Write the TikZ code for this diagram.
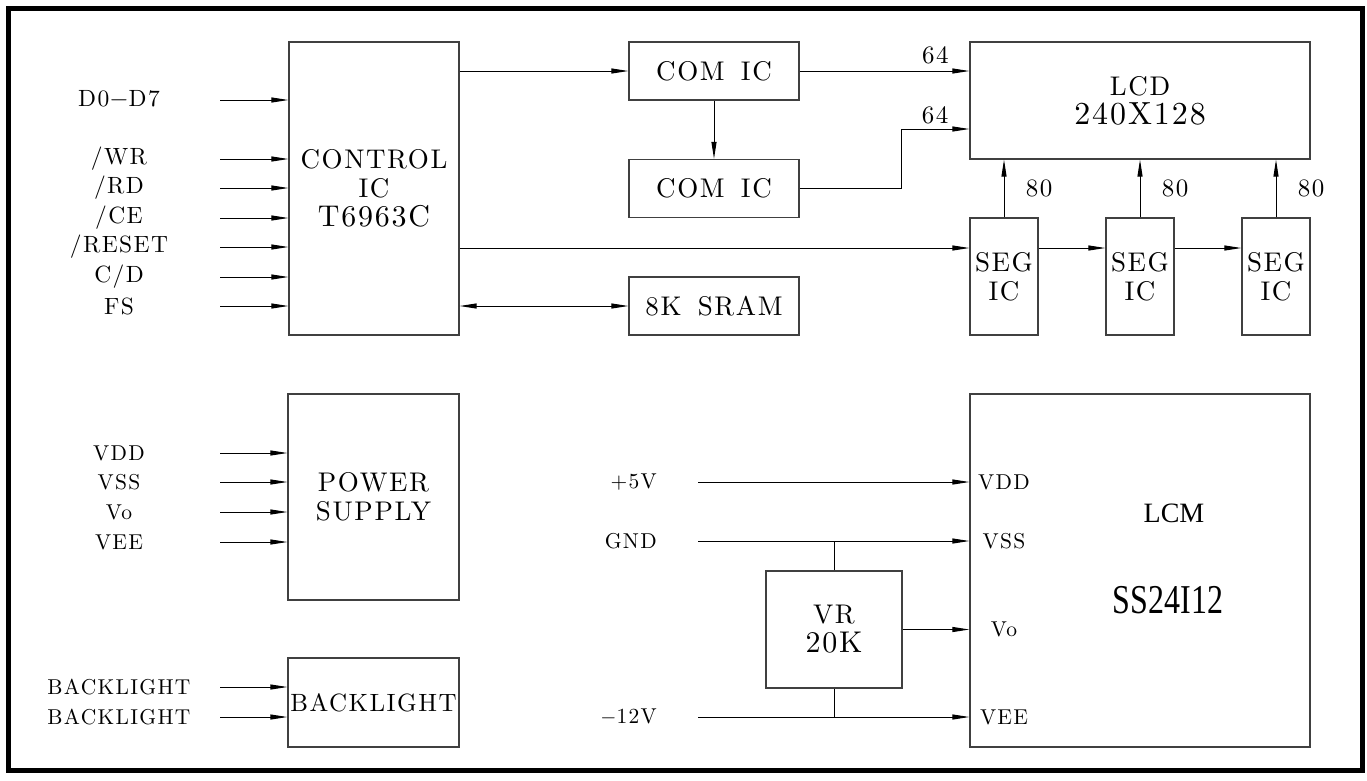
\documentclass[tikz,border=0pt]{standalone}
\usepackage{fontspec}
\usepackage{graphicx}
\setmainfont{lmroman10-regular.otf}[LetterSpace=6]
\newfontfamily\timesfont{Liberation Serif}
\usetikzlibrary{math,arrows.meta}

\begin{document}
\begin{tikzpicture}[x=1pt,y=-1pt,
      box/.style={draw=black!75, line width=1.2pt, inner sep=0pt, align=center,
                  font=\fontsize{27}{29}\selectfont},
      pin/.style={inner sep=0pt, font=\fontsize{21.5}{25}\selectfont},
      bigpin/.style={inner sep=0pt, font=\fontsize{23.5}{25}\selectfont},
      num/.style={inner sep=0pt, font=\fontsize{25}{25}\selectfont},
      parrow/.style={-{Triangle[length=17pt,width=5pt]}, line width=1pt},
      darrow/.style={{Triangle[length=17pt,width=5pt]}-{Triangle[length=17pt,width=5pt]}, line width=1pt},
      wire/.style={line width=1pt}]
    \tikzmath{
      \inX=220; \lblX=119;   % input arrows and their labels
      \busY=248;             % line to the SEG ICs
    }
    \useasboundingbox (0,0) rectangle (1367,780);
    \draw[line width=5pt] (8.5,8.5) rectangle (1362.5,770.5);

    % draw the blocks
    \node[box, minimum width=170pt, minimum height=293pt] (ctrl) at (374,188.5)
      {CONTROL\\IC\\{\fontsize{30}{29}\selectfont T6963C}};
    \node[box, minimum width=170pt, minimum height=58pt] (com1) at (714,71) {COM\hspace{.6em}IC};
    \node[box, minimum width=170pt, minimum height=58pt] (com2) at (714,188.5) {COM\hspace{.6em}IC};
    \node[box, minimum width=170pt, minimum height=58pt] (sram) at (714,306) {8K\hspace{.6em}SRAM};
    \node[box, minimum width=340pt, minimum height=117pt] (lcd) at (1140,100.5)
      {LCD\\{\fontsize{32}{29}\selectfont 240X128}};
    \foreach \x [count=\i] in {1004,1140,1276}
      \node[box, minimum width=68pt, minimum height=117pt] (seg\i) at (\x,276.5) {SEG\\IC};
    \node[box, minimum width=171pt, minimum height=206pt] (power) at (373.5,497) {POWER\\SUPPLY};
    \node[box, minimum width=171pt, minimum height=89pt, font=\fontsize{25}{29}\selectfont] (blight) at (373.5,702.5) {BACKLIGHT};
    \node[box, minimum width=340pt, minimum height=353pt] (lcm) at (1140,570.5) {};
    \node[box, minimum width=136pt, minimum height=117pt] (vr) at (834,629.5)
      {VR\\{\fontsize{30}{29}\selectfont 20K}};

    % inputs of the control IC
    \foreach \y/\txt [count=\i] in {100/{D0$-$D7},159/{/WR},188/{/RD},218/{/CE},247/{/RESET},277/{C/D},306/{FS}} {
      \node[bigpin] (cin\i) at (\lblX,\y) {\txt};
      \coordinate (cs\i) at (\inX,\y);
      \draw[parrow] (cs\i) -- (cs\i -| ctrl.west);
    }

    % inputs of the power supply and the backlight
    \foreach \y/\txt [count=\i] in {453/VDD,482/VSS,512/Vo,542/VEE} {
      \node[pin] (pin\i) at (\lblX,\y) {\txt};
      \coordinate (ps\i) at (\inX,\y);
      \draw[parrow] (ps\i) -- (ps\i -| power.west);
    }
    \foreach \y [count=\i] in {687,717} {
      \node[pin] (bin\i) at (\lblX,\y) {BACKLIGHT};
      \coordinate (bs\i) at (\inX,\y);
      \draw[parrow] (bs\i) -- (bs\i -| blight.west);
    }

    % control IC to COM, SEG and SRAM
    \draw[parrow] (ctrl.east |- com1.west) -- (com1.west);
    \draw[parrow] (com1) -- (com2);
    \draw[parrow] (com1.east) -- (com1.east -| lcd.west) node[num, pos=.8, above=6pt] {64};
    \coordinate (bend) at (901,129);
    \draw[parrow] (com2.east) -| (bend) -- (bend -| lcd.west) node[num, pos=.5, above=4pt] {64};
    \coordinate (bus) at (0,\busY);
    \draw[parrow] (ctrl.east |- bus) -- (seg1.west |- bus);
    \draw[parrow] (seg1.east |- bus) -- (seg2.west |- bus);
    \draw[parrow] (seg2.east |- bus) -- (seg3.west |- bus);
    \foreach \i in {1,2,3}
      \draw[parrow] (seg\i.north) -- (seg\i.north |- lcd.south) node[num, midway, xshift=35pt] {80};
    \draw[darrow] (ctrl.east |- sram.west) -- (sram.west);

    % supplies of the LCM
    \foreach \y/\txt/\pinname [count=\i] in {482/+5V/VDD,541/GND/VSS,717/{$-$12V}/VEE} {
      \node[pin, anchor=east] (sup\i) at (657,\y) {\txt};
      \coordinate (ss\i) at (698,\y);
      \draw[parrow] (ss\i) -- (ss\i -| lcm.west);
      \node[pin] (lpin\i) at (1004,\y) {\pinname};
    }
    \node[pin] (lpinvo) at (1004,629) {Vo};
    \draw[wire] (vr.north) -- (vr.north |- ss2);
    \draw[wire] (vr.south) -- (vr.south |- ss3);
    \draw[parrow] (vr.east) -- (vr.east -| lcm.west);

    \node[inner sep=0pt, font=\timesfont\fontsize{28}{30}\selectfont] (lcmname) at (1174,513) {LCM};
    \node[inner sep=0pt, font=\timesfont\fontsize{41}{44}\selectfont] (lcmtype) at (1168,600) {\scalebox{.78}[1]{SS24I12}};
  \end{tikzpicture}
\end{document}
